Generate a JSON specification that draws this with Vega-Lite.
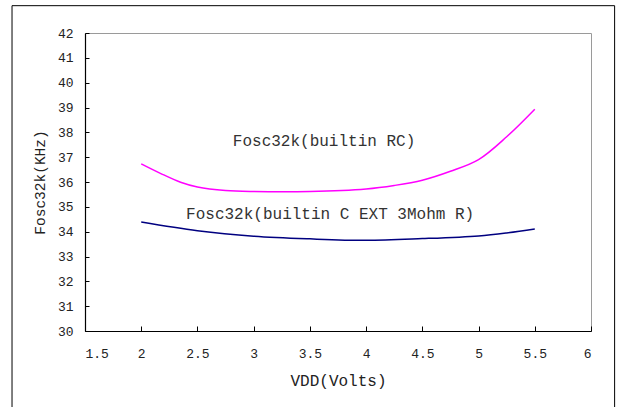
{
  "$schema": "https://vega.github.io/schema/vega-lite/v6.json",
  "width": 506,
  "height": 298,
  "autosize": "none",
  "padding": {"left": 85, "top": 33, "right": 28, "bottom": 76},
  "background": "white",
  "config": {
    "view": {"stroke": "#9a9a9a", "strokeWidth": 1},
    "font": "Liberation Mono",
    "axis": {
      "grid": false,
      "domainColor": "black",
      "domainWidth": 1.2,
      "tickColor": "black",
      "labelFont": "Liberation Mono",
      "labelColor": "#222",
      "labelFontSize": 13,
      "labelOverlap": false,
      "titleFont": "Liberation Mono",
      "titleFontWeight": "normal",
      "titleColor": "#222"
    }
  },
  "layer": [
    {
      "data": {
        "values": [
          {"series": "RC", "vdd": 2.0, "f": 36.73},
          {"series": "RC", "vdd": 2.17, "f": 36.35},
          {"series": "RC", "vdd": 2.35, "f": 35.99},
          {"series": "RC", "vdd": 2.5, "f": 35.8},
          {"series": "RC", "vdd": 2.75, "f": 35.66},
          {"series": "RC", "vdd": 3.0, "f": 35.62},
          {"series": "RC", "vdd": 3.5, "f": 35.62},
          {"series": "RC", "vdd": 4.0, "f": 35.72},
          {"series": "RC", "vdd": 4.25, "f": 35.86},
          {"series": "RC", "vdd": 4.5, "f": 36.07},
          {"series": "RC", "vdd": 4.75, "f": 36.43},
          {"series": "RC", "vdd": 5.0, "f": 36.9},
          {"series": "RC", "vdd": 5.25, "f": 37.82},
          {"series": "RC", "vdd": 5.5, "f": 38.93},
          {"series": "EXT", "vdd": 2.0, "f": 34.39},
          {"series": "EXT", "vdd": 2.5, "f": 34.04},
          {"series": "EXT", "vdd": 3.0, "f": 33.82},
          {"series": "EXT", "vdd": 3.5, "f": 33.71},
          {"series": "EXT", "vdd": 4.0, "f": 33.65},
          {"series": "EXT", "vdd": 4.5, "f": 33.72},
          {"series": "EXT", "vdd": 5.0, "f": 33.83},
          {"series": "EXT", "vdd": 5.25, "f": 33.95},
          {"series": "EXT", "vdd": 5.5, "f": 34.11}
        ]
      },
      "mark": {"type": "line", "interpolate": "catmull-rom", "strokeWidth": 1.5},
      "encoding": {
        "x": {
          "field": "vdd", "type": "quantitative",
          "scale": {"domain": [1.5, 6], "nice": false, "zero": false},
          "axis": {
            "title": "VDD(Volts)",
            "titleFontSize": 16,
            "titlePadding": 12,
            "values": [1.5, 2, 2.5, 3, 3.5, 4, 4.5, 5, 5.5, 6],
            "format": ".1~f",
            "tickSize": -5,
            "labelPadding": 21,
            "labelOverlap": false
          }
        },
        "y": {
          "field": "f", "type": "quantitative",
          "scale": {"domain": [30, 42], "nice": false, "zero": false},
          "axis": {
            "title": "Fosc32k(KHz)",
            "titleFontSize": 14.5,
            "titlePadding": 10,
            "values": [30, 31, 32, 33, 34, 35, 36, 37, 38, 39, 40, 41, 42],
            "tickCount": 13,
            "format": "d",
            "tickSize": -4,
            "labelPadding": 16,
            "labelOverlap": false,
            "labelSeparation": 0
          }
        },
        "color": {
          "field": "series", "type": "nominal",
          "scale": {"domain": ["RC", "EXT"], "range": ["#FF00FF", "#000080"]},
          "legend": null
        }
      }
    },
    {
      "data": {"values": [{"label": "Fosc32k(builtin RC)"}]},
      "mark": {"type": "text", "font": "Liberation Mono", "fontSize": 16, "fontWeight": "normal", "fill": "#333", "align": "center", "baseline": "middle"},
      "encoding": {
        "x": {"datum": 3.626, "type": "quantitative"},
        "y": {"datum": 37.66, "type": "quantitative"},
        "text": {"field": "label"}
      }
    },
    {
      "data": {"values": [{"label": "Fosc32k(builtin C EXT 3Mohm R)"}]},
      "mark": {"type": "text", "font": "Liberation Mono", "fontSize": 16, "fontWeight": "normal", "fill": "#333", "align": "center", "baseline": "middle"},
      "encoding": {
        "x": {"datum": 3.68, "type": "quantitative"},
        "y": {"datum": 34.71, "type": "quantitative"},
        "text": {"field": "label"}
      }
    },
    {
      "data": {"values": [{}]},
      "mark": {"type": "rect", "fill": null, "fillOpacity": 0, "stroke": "black", "strokeWidth": 1, "clip": false},
      "encoding": {
        "x": {"datum": 0.851, "type": "quantitative"},
        "x2": {"datum": 6.21},
        "y": {"datum": 43.1, "type": "quantitative"},
        "y2": {"datum": 26.0}
      }
    }
  ]
}
